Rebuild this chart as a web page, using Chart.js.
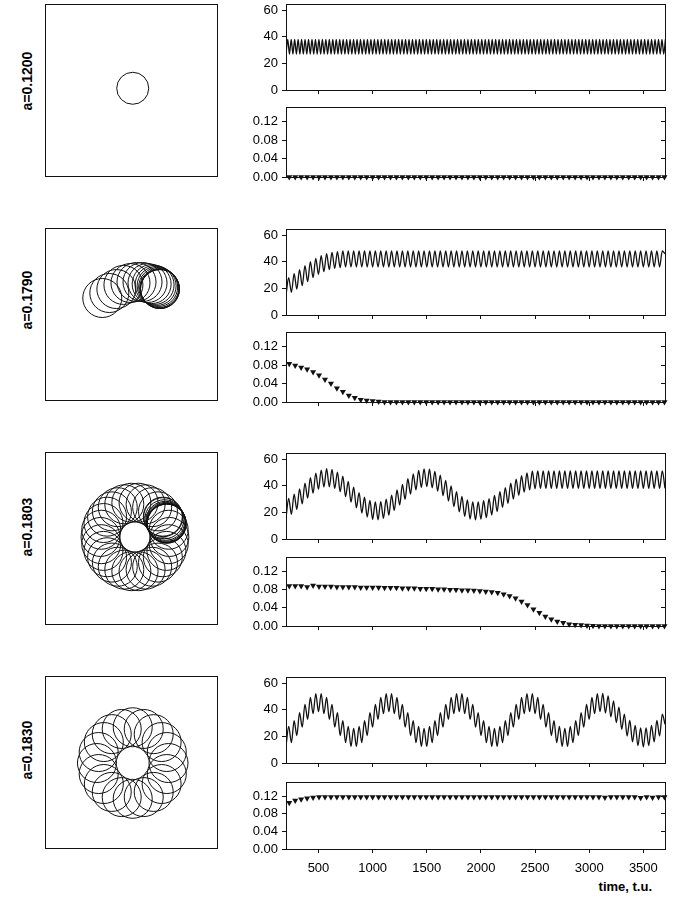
<!DOCTYPE html>
<html>
<head>
<meta charset="utf-8">
<script src="https://cdn.jsdelivr.net/npm/chart.js@4.4.1/dist/chart.umd.min.js"></script>
<style>
  body { margin: 0; background: #fff; width: 678px; height: 899px; position: relative; overflow: hidden;
         font-family: "Liberation Sans", Arial, sans-serif; }
  canvas { position: absolute; }
  .par { position: absolute; width: 90px; height: 16px; line-height: 16px; text-align: center;
         font-weight: bold; font-size: 14px; transform: rotate(-90deg); white-space: nowrap; }
  #tlabel { position: absolute; right: 26px; top: 879px; font-weight: bold; font-size: 13px; }
</style>
</head>
<body>
<div id="tlabel">time, t.u.</div>
<script>
// parameter values, one row each
const params = ["a=0.1200", "a=0.1790", "a=0.1803", "a=0.1830"];

const xTicks = [500, 1000, 1500, 2000, 2500, 3000, 3500];
const yTicksTop = [0, 20, 40, 60];
const yTicksLow = [0, 0.04, 0.08, 0.12];

// sample times of the oscillation extremes (row 1 faster)
const tFast = [
  200,216,232,248,264,280,296,312,328,344,
  360,376,392,408,424,440,456,472,488,504,
  520,536,552,568,584,600,616,632,648,664,
  680,696,712,728,744,760,776,792,808,824,
  840,856,872,888,904,920,936,952,968,984,
  1000,1016,1032,1048,1064,1080,1096,1112,1128,1144,
  1160,1176,1192,1208,1224,1240,1256,1272,1288,1304,
  1320,1336,1352,1368,1384,1400,1416,1432,1448,1464,
  1480,1496,1512,1528,1544,1560,1576,1592,1608,1624,
  1640,1656,1672,1688,1704,1720,1736,1752,1768,1784,
  1800,1816,1832,1848,1864,1880,1896,1912,1928,1944,
  1960,1976,1992,2008,2024,2040,2056,2072,2088,2104,
  2120,2136,2152,2168,2184,2200,2216,2232,2248,2264,
  2280,2296,2312,2328,2344,2360,2376,2392,2408,2424,
  2440,2456,2472,2488,2504,2520,2536,2552,2568,2584,
  2600,2616,2632,2648,2664,2680,2696,2712,2728,2744,
  2760,2776,2792,2808,2824,2840,2856,2872,2888,2904,
  2920,2936,2952,2968,2984,3000,3016,3032,3048,3064,
  3080,3096,3112,3128,3144,3160,3176,3192,3208,3224,
  3240,3256,3272,3288,3304,3320,3336,3352,3368,3384,
  3400,3416,3432,3448,3464,3480,3496,3512,3528,3544,
  3560,3576,3592,3608,3624,3640,3656,3672,3688,3704
];
const tSlow = [
  200,225,250,275,300,325,350,375,400,425,
  450,475,500,525,550,575,600,625,650,675,
  700,725,750,775,800,825,850,875,900,925,
  950,975,1000,1025,1050,1075,1100,1125,1150,1175,
  1200,1225,1250,1275,1300,1325,1350,1375,1400,1425,
  1450,1475,1500,1525,1550,1575,1600,1625,1650,1675,
  1700,1725,1750,1775,1800,1825,1850,1875,1900,1925,
  1950,1975,2000,2025,2050,2075,2100,2125,2150,2175,
  2200,2225,2250,2275,2300,2325,2350,2375,2400,2425,
  2450,2475,2500,2525,2550,2575,2600,2625,2650,2675,
  2700,2725,2750,2775,2800,2825,2850,2875,2900,2925,
  2950,2975,3000,3025,3050,3075,3100,3125,3150,3175,
  3200,3225,3250,3275,3300,3325,3350,3375,3400,3425,
  3450,3475,3500,3525,3550,3575,3600,3625,3650,3675,
  3700
];

const osc1 = [
  27,38,27,38,27,38,27,38,27,38,27,38,27,38,27,38,27,38,27,38,27,38,
  27,38,27,38,27,38,27,38,27,38,27,38,27,38,27,38,27,38,27,38,27,38,
  27,38,27,38,27,38,27,38,27,38,27,38,27,38,27,38,27,38,27,38,27,38,
  27,38,27,38,27,38,27,38,27,38,27,38,27,38,27,38,27,38,27,38,27,38,
  27,38,27,38,27,38,27,38,27,38,27,38,27,38,27,38,27,38,27,38,27,38,
  27,38,27,38,27,38,27,38,27,38,27,38,27,38,27,38,27,38,27,38,27,38,
  27,38,27,38,27,38,27,38,27,38,27,38,27,38,27,38,27,38,27,38,27,38,
  27,38,27,38,27,38,27,38,27,38,27,38,27,38,27,38,27,38,27,38,27,38,
  27,38,27,38,27,38,27,38,27,38,27,38,27,38,27,38,27,38,27,38,27,38,
  27,38,27,38,27,38,27,38,27,38,27,38,27,38,27,38,27,38,27,38,27,38
];
const osc2 = [
  15,28,17,31,19.5,34,22,37,25,40,
  28,42.5,30.5,44.5,32.5,46,34,47,35,47.5,
  35.5,48,36,48,36,48,36,48,36,48,
  36,48,36,48,36,48,36,48,36,48,
  36,48,36,48,36,48,36,48,36,48,
  36,48,36,48,36,48,36,48,36,48,
  36,48,36,48,36,48,36,48,36,48,
  36,48,36,48,36,48,36,48,36,48,
  36,48,36,48,36,48,36,48,36,48,
  36,48,36,48,36,48,36,48,36,48,
  36,48,36,48,36,48,36,48,36,48,
  36,48,36,48,36,48,36,48,36,48,
  36,48,36,48,36,48,36,48,36,48,
  36,48,36,48,36,48,36,48,36,48,
  46
];
const osc3 = [
  15.8,30.4,18.5,33.6,22.2,37.6,26.4,41.9,30.6,46.0,
  34.4,49.4,37.3,51.7,39.0,52.7,39.2,52.2,38.0,50.2,
  35.4,47.1,31.8,43.2,27.7,38.9,23.4,34.8,19.5,31.3,
  16.5,28.9,14.7,27.8,14.4,28.1,15.4,29.9,17.9,32.9,
  21.4,36.8,25.5,41.0,29.8,45.2,33.7,48.8,36.8,51.4,
  38.8,52.6,39.3,52.4,38.3,50.7,36.0,47.8,32.6,44.0,
  28.5,39.8,24.3,35.6,20.3,31.9,17.0,29.3,15.0,27.9,
  14.3,27.9,14.9,28.7,16.0,30.3,18.0,32.7,20.6,35.5,
  23.7,38.6,26.8,41.8,30.0,44.9,32.8,47.5,35.2,49.5,
  36.8,50.8,37.7,51,38,51,38,51,38,51,
  38,51,38,51,38,51,38,51,38,51,
  38,51,38,51,38,51,38,51,38,51,
  38,51,38,51,38,51,38,51,38,51,
  38,51,38,51,38,51,38,51,38,51,
  38
];
const osc4 = [
  12.4,27.5,15.3,31.7,20.6,37.7,26.9,44.0,32.8,49.2,37.0,52.1,38.5,52.1,37.0,49.2,32.8,44.0,26.9,37.7,20.6,31.7,15.3,27.5,12.4,26.0,
  12.4,27.5,15.3,31.7,20.6,37.7,26.9,44.0,32.8,49.2,37.0,52.1,38.5,52.1,37.0,49.2,32.8,44.0,26.9,37.7,20.6,31.7,15.3,27.5,12.4,26.0,
  12.4,27.5,15.3,31.7,20.6,37.7,26.9,44.0,32.8,49.2,37.0,52.1,38.5,52.1,37.0,49.2,32.8,44.0,26.9,37.7,20.6,31.7,15.3,27.5,12.4,26.0,
  12.4,27.5,15.3,31.7,20.6,37.7,26.9,44.0,32.8,49.2,37.0,52.1,38.5,52.1,37.0,49.2,32.8,44.0,26.9,37.7,20.6,31.7,15.3,27.5,12.4,26.0,
  12.4,27.5,15.3,31.7,20.6,37.7,26.9,44.0,32.8,49.2,37.0,52.1,
  38.5,52.2,37.5,50.3,34.6,46.6,30.3,41.8,25.3,36.7,20.2,31.9,15.9,28.2,13.0,26.3,12.0,
  26.3,13.0,28.2,15.9,31.9,20.2,36.7,29
];

// drift velocity samples (triangles)
const tMarks = [
  230,285,340,395,450,505,560,615,670,725,
  780,835,890,945,1000,1055,1110,1165,1220,1275,
  1330,1385,1440,1495,1550,1605,1660,1715,1770,1825,
  1880,1935,1990,2045,2100,2155,2210,2265,2320,2375,
  2430,2485,2540,2595,2650,2705,2760,2815,2870,2925,
  2980,3035,3090,3145,3200,3255,3310,3365,3420,3475,
  3530,3585,3640,3695
];
const drift1 = [
  0,0,0,0,0,0,0,0,0,0, 0,0,0,0,0,0,0,0,0,0,
  0,0,0,0,0,0,0,0,0,0, 0,0,0,0,0,0,0,0,0,0,
  0,0,0,0,0,0,0,0,0,0, 0,0,0,0,0,0,0,0,0,0,
  0,0,0,0
];
const drift2 = [
  0.083,0.079,0.075,0.071,0.065,0.058,0.049,0.040,0.030,0.022,
  0.014,0.009,0.005,0.003,0.002,0.001,0,0,0,0,
  0,0,0,0,0,0,0,0,0,0, 0,0,0,0,0,0,0,0,0,0,
  0,0,0,0,0,0,0,0,0,0, 0,0,0,0,0,0,0,0,0,0,
  0,0,0,0
];
const drift3 = [
  0.088,0.088,0.088,0.086,0.089,0.087,0.087,0.087,0.086,0.086,
  0.086,0.086,0.085,0.085,0.085,0.085,0.084,0.084,0.084,0.083,
  0.083,0.083,0.082,0.082,0.082,0.081,0.081,0.080,0.080,0.079,
  0.079,0.078,0.077,0.076,0.075,0.073,0.070,0.066,0.061,0.054,
  0.046,0.037,0.029,0.021,0.015,0.010,0.007,0.004,0.003,0.002,
  0.001,0.0005,0,0,0,0,0,0,0,0,
  0,0,0,0
];
const drift4 = [
  0.105,0.110,0.113,0.115,0.117,0.118,0.118,0.118,0.118,0.118,
  0.118,0.118,0.118,0.118,0.118,0.118,0.118,0.118,0.118,0.118,
  0.118,0.118,0.118,0.118,0.118,0.118,0.118,0.118,0.118,0.118,
  0.118,0.118,0.118,0.118,0.118,0.118,0.118,0.118,0.118,0.118,
  0.118,0.118,0.118,0.118,0.118,0.118,0.118,0.118,0.118,0.118,
  0.118,0.118,0.118,0.117,0.118,0.118,0.118,0.118,0.118,0.116,
  0.118,0.117,0.118,0.118
];

// tip trajectory: centres of the traced circles, panel units 0..100
const orbit1X = [51];
const orbit1Y = [51];
const orbit2X = [33.3,37.4,41.5,45.6,49.7,53.2,56.7,59.6,62.0,63.7,64.9,65.8,66.4,66.7,66.8,66.9];
const orbit2Y = [59.3,62.2,64.5,66.9,68.0,68.6,68.6,68.0,67.4,66.9,66.3,65.7,65.1,64.8,64.5,64.5];
const orbit3X = [72.3,71.9,70.6,68.5,65.7,62.3,58.5,54.4,50.2,46.1,42.3,38.9,36.1,34.0,32.7,
                 32.3,32.7,34.0,36.1,38.9,42.3,46.1,50.2,54.4,58.5,62.3,65.7,68.5,70.6,71.9,
                 68.7,69.4,70.0,70.3,70.5,70.6,70.7,70.8];
const orbit3Y = [50.6,54.8,58.7,62.4,65.5,67.9,69.6,70.5,70.5,69.6,67.9,65.5,62.4,58.7,54.8,
                 50.6,46.4,42.5,38.8,35.7,33.3,31.6,30.7,30.7,31.6,33.3,35.7,38.8,42.5,46.4,
                 62.1,60.9,60.0,59.4,58.9,58.6,58.4,58.3];
const orbit4X = [71.8,70.8,67.8,63.2,57.4,51.0,44.6,38.8,34.2,31.2,30.2,31.2,34.2,38.8,44.6,51.0,57.4,63.2,67.8,70.8];
const orbit4Y = [49.4,55.8,61.6,66.2,69.2,70.2,69.2,66.2,61.6,55.8,49.4,43.0,37.2,32.6,29.6,28.6,29.6,32.6,37.2,43.0];

const rows = [
  { osc: osc1, t: tFast, drift: drift1, ox: orbit1X, oy: orbit1Y },
  { osc: osc2, t: tSlow, drift: drift2, ox: orbit2X, oy: orbit2Y },
  { osc: osc3, t: tSlow, drift: drift3, ox: orbit3X, oy: orbit3Y },
  { osc: osc4, t: tSlow, drift: drift4, ox: orbit4X, oy: orbit4Y }
];

// layout (pixels)
const boxTop = [4, 228, 452, 676];
const upTop = [4, 229, 453, 677];
const lowTop = [107, 332, 557, 782];
const lowH = [70, 70, 69, 67];
const labelMid = [81, 300, 527, 750];
const tipRadius = [16, 19.5, 19.5, 19.5];
const ink = '#111';

Chart.defaults.font.family = '"Liberation Sans", Arial, sans-serif';
Chart.defaults.font.size = 13;
Chart.defaults.color = '#000';
Chart.defaults.plugins.legend.display = false;
Chart.defaults.plugins.tooltip.enabled = false;

Chart.register({
  id: 'frame',
  afterDraw(chart) {
    const { ctx, chartArea: a } = chart;
    ctx.save();
    ctx.strokeStyle = ink;
    ctx.lineWidth = 1;
    ctx.strokeRect(Math.round(a.left) + 0.5, Math.round(a.top) + 0.5,
                   Math.round(a.right - a.left), Math.round(a.bottom - a.top));
    ctx.restore();
  }
});

function addCanvas(left, top, w, h) {
  const c = document.createElement('canvas');
  c.width = w; c.height = h;
  c.style.left = left + 'px'; c.style.top = top + 'px';
  c.style.width = w + 'px'; c.style.height = h + 'px';
  document.body.appendChild(c);
  return c;
}

const base = { responsive: false, animation: false, events: [], devicePixelRatio: 1 };

function noPad(s) {
  s.paddingTop = 0; s.paddingBottom = 0; s.paddingLeft = 0; s.paddingRight = 0;
}

function xAxis(withLabels) {
  return {
    type: 'linear', min: 200, max: 3700,
    afterBuildTicks: s => { s.ticks = xTicks.map(v => ({ value: v })); },
    ticks: { display: withLabels, padding: 8, maxRotation: 0, autoSkip: false, callback: v => String(v) },
    grid: { drawOnChartArea: false, tickLength: 4, color: ink },
    border: { color: ink },
    afterFit: s => { s.height = withLabels ? 32 : 6; noPad(s); }
  };
}

function yAxis(list, max, digits) {
  return {
    min: 0, max: max,
    afterBuildTicks: s => { s.ticks = list.map(v => ({ value: v })); },
    ticks: { padding: 4, callback: v => Number(v).toFixed(digits) },
    grid: { drawOnChartArea: false, tickLength: 4, color: ink },
    border: { color: ink },
    afterFit: s => { s.width = 50; noPad(s); }
  };
}

rows.forEach((row, i) => {
  // parameter label
  const lab = document.createElement('div');
  lab.className = 'par';
  lab.textContent = params[i];
  lab.style.left = (27 - 45) + 'px';
  lab.style.top = (labelMid[i] - 8) + 'px';
  document.body.appendChild(lab);

  // trajectory panel
  new Chart(addCanvas(44, boxTop[i] - 1, 174, 174), {
    type: 'bubble',
    data: {
      datasets: [{
        data: row.ox.map((x, j) => ({ x: x, y: row.oy[j], r: tipRadius[i] })),
        backgroundColor: 'rgba(0,0,0,0)',
        borderColor: ink,
        borderWidth: 1
      }]
    },
    options: Object.assign({}, base, {
      layout: { autoPadding: false, padding: 1 },
      scales: { x: { display: false, min: 0, max: 100 }, y: { display: false, min: 0, max: 100 } }
    })
  });

  // oscillation panel
  new Chart(addCanvas(236, upTop[i] - 6, 437, 6 + 86 + 6), {
    type: 'line',
    data: {
      labels: row.t,
      datasets: [{
        data: row.osc,
        borderColor: ink,
        borderWidth: 1.3,
        pointRadius: 0,
        cubicInterpolationMode: 'monotone',
        fill: false
      }]
    },
    options: Object.assign({}, base, {
      layout: { autoPadding: false, padding: { top: 6, right: 8, left: 0, bottom: 0 } },
      scales: { x: xAxis(false), y: yAxis(yTicksTop, 64.5, 0) }
    })
  });

  // drift panel
  const last = i === rows.length - 1;
  new Chart(addCanvas(236, lowTop[i] - 6, 437, 6 + lowH[i] + (last ? 32 : 6)), {
    type: 'line',
    data: {
      labels: tMarks,
      datasets: [{
        data: row.drift,
        showLine: false,
        pointStyle: 'triangle',
        rotation: 180,
        pointRadius: 3.5,
        backgroundColor: ink,
        borderColor: ink,
        borderWidth: 0,
        clip: false
      }]
    },
    options: Object.assign({}, base, {
      layout: { autoPadding: false, padding: { top: 6, right: 0, left: 0, bottom: 0 } },
      scales: {
        x: xAxis(last),
        y: yAxis(yTicksLow, 0.152, 2),
        y2: {
          position: 'right', min: 0, max: 0.152,
          afterBuildTicks: s => { s.ticks = yTicksLow.slice(1).map(v => ({ value: v })); },
          ticks: { display: false },
          grid: { drawOnChartArea: false, tickLength: -4, color: ink },
          border: { display: false },
          afterFit: s => { s.width = 8; noPad(s); }
        }
      }
    })
  });
});
</script>
</body>
</html>
